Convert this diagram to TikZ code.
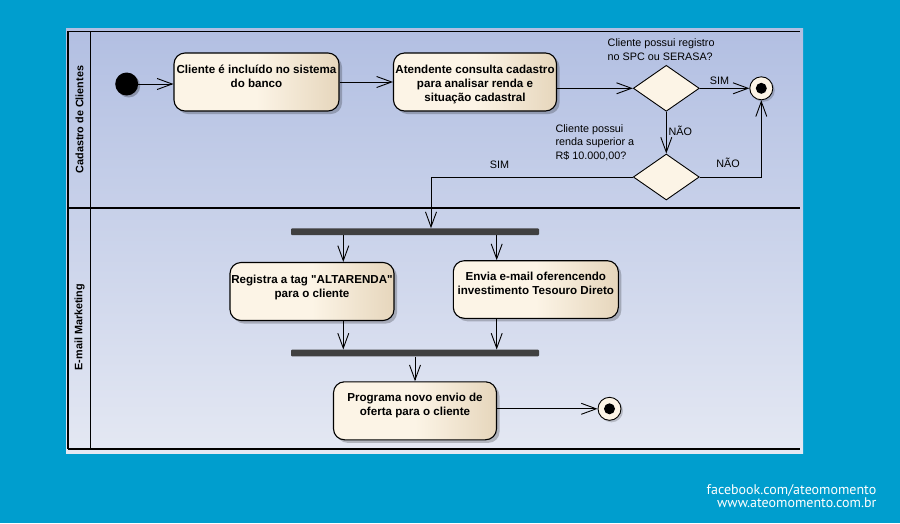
\documentclass[tikz,border=0pt]{standalone}
\usepackage{fontspec}
\setmainfont{Liberation Sans}
\newfontfamily\footfont{PT Sans}
\usetikzlibrary{arrows.meta,shapes.geometric,shadows,calc}
\definecolor{bgblue}{RGB}{0,158,206}
\definecolor{lanetop}{RGB}{178,191,226}
\definecolor{lanebot}{RGB}{228,232,243}
\definecolor{creamL}{RGB}{252,244,230}
\definecolor{creamR}{RGB}{230,214,188}
\definecolor{barc}{RGB}{64,64,64}
\pgfdeclarehorizontalshading{actshade}{100bp}{color(0bp)=(creamL); color(25bp)=(creamL); color(50bp)=(creamL); color(75bp)=(creamR); color(100bp)=(creamR)}
\newcommand{\acttxt}[4]{\parbox[c][#2][t]{#1}{\centering\vspace*{#3}\strut #4}}
\tikzset{
  act/.style={draw, line width=1.1pt, rounded corners=11pt, shading=actshade, inner sep=0pt,
    font=\bfseries\fontsize{11.6}{14}\selectfont,
    drop shadow={shadow xshift=3pt,shadow yshift=-3pt,fill=black,opacity=0.22}},
  dec/.style={diamond, draw, line width=0.9pt, fill=creamL, minimum width=66pt, minimum height=46pt, inner sep=0pt},
  finalnode/.style={circle, draw, line width=0.9pt, fill=creamL, minimum size=23pt, inner sep=0pt,
    path picture={\fill[black] (path picture bounding box.center) circle (5.5pt);},
    drop shadow={shadow xshift=2pt,shadow yshift=-2pt,fill=black,opacity=0.18}},
  initnode/.style={circle, fill=black, minimum size=23pt, inner sep=0pt,
    drop shadow={shadow xshift=2pt,shadow yshift=-2pt,fill=black,opacity=0.25}},
  forkbar/.style={rectangle, fill=barc, minimum width=248pt, minimum height=6.6pt, inner sep=0pt, rounded corners=1pt},
  arr/.style={line width=0.9pt, -{Straight Barb[length=15pt,width=11pt,line width=0.9pt]}},
  lbl/.style={inner sep=0pt, font=\fontsize{10.8}{13.5}\selectfont, align=left},
  lanelbl/.style={inner sep=0pt, rotate=90, font=\bfseries\fontsize{10.8}{13}\selectfont},
  foot/.style={inner sep=0pt, text=white, align=right, font=\footfont\fontsize{14}{11.6}\selectfont}
}
\begin{document}
\begin{tikzpicture}[x=1pt,y=-1pt]
\useasboundingbox[fill=bgblue] (0,0) rectangle (900,523);
% panel
\shade[top color=lanetop, bottom color=lanebot] (66,28) rectangle (803,453);
\draw[line width=1pt] (68,31) -- (800,31);
\draw[line width=2pt] (68,449) -- (800,449);
\draw[line width=1.2pt] (68,31) -- (68,449);
\draw[line width=1.3pt] (90.5,31) -- (90.5,449);
\draw[line width=2pt] (68,208.3) -- (800,208.3);
\node[lanelbl] (lane1) at (79.5,119.5) {Cadastro de Clientes};
\node[lanelbl] (lane2) at (79.5,327) {E-mail Marketing};
% nodes
\node[initnode] (init) at (126.7,84) {};
\node[act] (a1) at (256.5,82) {\acttxt{165pt}{58pt}{10.5pt}{Cliente é incluído no sistema\\do banco}};
\node[act] (a2) at (475,82) {\acttxt{163pt}{58pt}{11pt}{Atendente consulta cadastro\\para analisar renda e\\situação cadastral}};
\node[dec] (d1) at (666.3,88.3) {};
\node[finalnode] (f1) at (761.3,88.3) {};
\node[dec] (d2) at (666.3,177) {};
\node[forkbar] (bar1) at (415,231.7) {};
\node[act] (a3) at (312,291.5) {\acttxt{164pt}{58pt}{11pt}{Registra a tag \textquotedbl ALTARENDA\textquotedbl\\para o cliente}};
\node[act] (a4) at (535.8,289.5) {\acttxt{165pt}{57.6pt}{9.5pt}{Envia e-mail oferencendo\\investimento Tesouro Direto}};
\node[forkbar] (bar2) at (415,353) {};
\node[act] (a5) at (415,410.8) {\acttxt{163pt}{58pt}{9.5pt}{Programa novo envio de\\oferta para o cliente}};
\node[finalnode] (f2) at (609.5,408.8) {};
% labels
\node[lbl, anchor=west] (q1) at (607.5,49.7) {Cliente possui registro\\no SPC ou SERASA?};
\node[lbl, anchor=west] (q2) at (555.3,142.3) {Cliente possui\\renda superior a\\R\$ 10.000,00?};
\node[lbl] (sim1) at (719.5,80.7) {SIM};
\node[lbl] (nao1) at (680.3,131.3) {NÃO};
\node[lbl] (nao2) at (728,163) {NÃO};
\node[lbl] (sim2) at (499.5,165) {SIM};
% coordinates
\coordinate (c3) at (343.3,0);
\coordinate (c4) at (496.7,0);
\coordinate (simx) at (431,0);
% connectors
\draw[arr] (init) -- (a1.west |- init);
\draw[arr] (a1) -- (a2);
\draw[arr] (a2.east |- d1) -- (d1.west);
\draw[arr] (d1.east) -- (f1);
\draw[arr] (d1.south) -- (d2.north);
\draw[arr] (d2.east) -| (f1.south);
\draw[arr] (d2.west) -| (bar1.north -| simx);
\draw[arr] (bar1.south -| c3) -- (a3.north -| c3);
\draw[arr] (bar1.south -| c4) -- (a4.north -| c4);
\draw[arr] (a3.south -| c3) -- (bar2.north -| c3);
\draw[arr] (a4.south -| c4) -- (bar2.north -| c4);
\draw[arr] (bar2) -- (a5);
\draw[arr] (a5.east |- f2) -- (f2);
% footer
\node[foot, anchor=north east] (foot) at (876.5,484.5) {facebook.com/ateomomento\\www.ateomomento.com.br};
\end{tikzpicture}
\end{document}
